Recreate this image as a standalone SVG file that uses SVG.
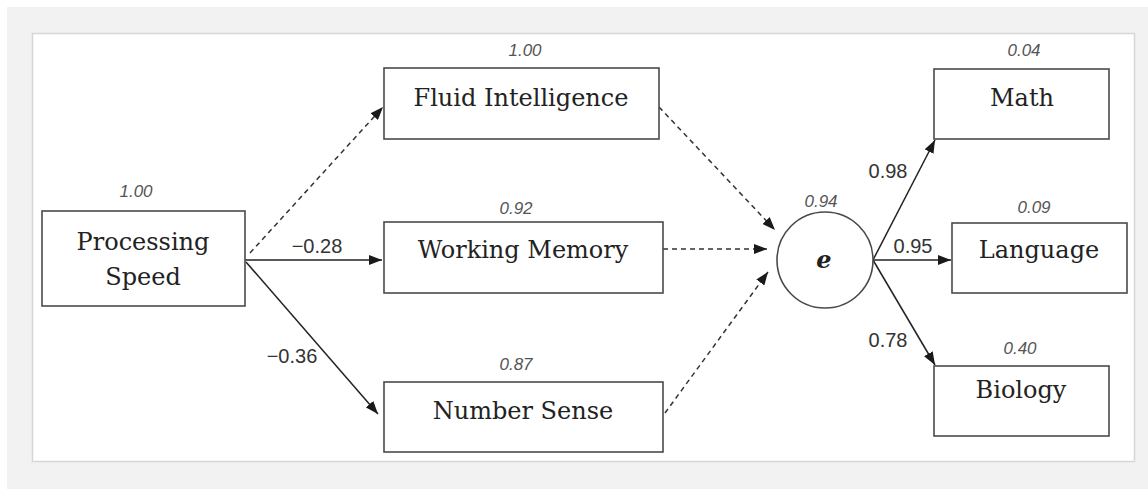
<svg xmlns="http://www.w3.org/2000/svg" width="1148" height="489" viewBox="0 0 1148 489">
<defs>
<marker id="ah" viewBox="0 0 13 10" refX="13" refY="5" markerWidth="13" markerHeight="10" markerUnits="userSpaceOnUse" orient="auto">
<path d="M0,0 L13,5 L0,10 Z" fill="#1a1a1a"/>
</marker>
<style>
.box{fill:#fff;stroke:#4a4a4a;stroke-width:1.6}
.nt{font-family:"DejaVu Serif","Liberation Serif",serif;font-size:24px;fill:#222;text-anchor:middle}
.var{font-family:"Liberation Sans",Arial,sans-serif;font-style:italic;font-size:17px;fill:#555;text-anchor:middle}
.pl{font-family:"Liberation Sans",Arial,sans-serif;font-size:20px;fill:#333;text-anchor:middle}
.solid{fill:none;stroke:#222;stroke-width:1.5;marker-end:url(#ah)}
.dash{fill:none;stroke:#333;stroke-width:1.5;stroke-dasharray:5 4;marker-end:url(#ah)}
</style>
</defs>
<rect x="0" y="0" width="1148" height="489" fill="#fff"/>
<rect x="7" y="7" width="1141" height="482" fill="#f2f2f2"/>
<rect x="32.5" y="33.5" width="1102" height="428" fill="#fff" stroke="#d6d6d6" stroke-width="1.5"/>
<g id="connectors">
<path class="dash" d="M250,253 L383,107"/>
<path class="solid" d="M245,260 L382,260"/>
<path class="solid" d="M246,262 L378,414"/>
<path class="dash" d="M659,107 L775,230"/>
<path class="dash" d="M663,249 L767,249"/>
<path class="dash" d="M665,413 L768,272"/>
<path class="solid" d="M873,260 L935,140"/>
<path class="solid" d="M873,260 L951,260"/>
<path class="solid" d="M873,260 L935,365"/>
<text class="pl" x="317" y="253">−0.28</text>
<text class="pl" x="292" y="363">−0.36</text>
<text class="pl" x="888" y="178">0.98</text>
<text class="pl" x="913" y="253">0.95</text>
<text class="pl" x="888" y="347">0.78</text>
</g>
<g id="processing-speed">
<rect class="box" x="42" y="211" width="203" height="95"/>
<text class="nt" x="143" y="250">Processing</text>
<text class="nt" x="143" y="285">Speed</text>
<text class="var" x="136" y="197">1.00</text>
</g>
<g id="fluid-intelligence">
<rect class="box" x="384" y="68" width="275" height="71"/>
<text class="nt" x="521" y="106">Fluid Intelligence</text>
<text class="var" x="525" y="56">1.00</text>
</g>
<g id="working-memory">
<rect class="box" x="384" y="222" width="279" height="71"/>
<text class="nt" x="523" y="258">Working Memory</text>
<text class="var" x="516" y="214">0.92</text>
</g>
<g id="number-sense">
<rect class="box" x="384" y="382" width="279" height="70"/>
<text class="nt" x="523" y="419">Number Sense</text>
<text class="var" x="516" y="370">0.87</text>
</g>
<g id="e">
<circle cx="825" cy="260" r="48" fill="#fff" stroke="#4a4a4a" stroke-width="1.6"/>
<text x="824" y="268" font-family="DejaVu Serif, Liberation Serif, serif" font-style="italic" font-weight="bold" font-size="24" fill="#222" text-anchor="middle">e</text>
<text class="var" x="821" y="207">0.94</text>
</g>
<g id="math">
<rect class="box" x="934" y="69" width="175" height="70"/>
<text class="nt" x="1022" y="106">Math</text>
<text class="var" x="1024" y="56">0.04</text>
</g>
<g id="language">
<rect class="box" x="952" y="223" width="175" height="70"/>
<text class="nt" x="1039" y="258">Language</text>
<text class="var" x="1034" y="213">0.09</text>
</g>
<g id="biology">
<rect class="box" x="934" y="366" width="175" height="70"/>
<text class="nt" x="1021" y="398">Biology</text>
<text class="var" x="1020" y="354">0.40</text>
</g>
</svg>
